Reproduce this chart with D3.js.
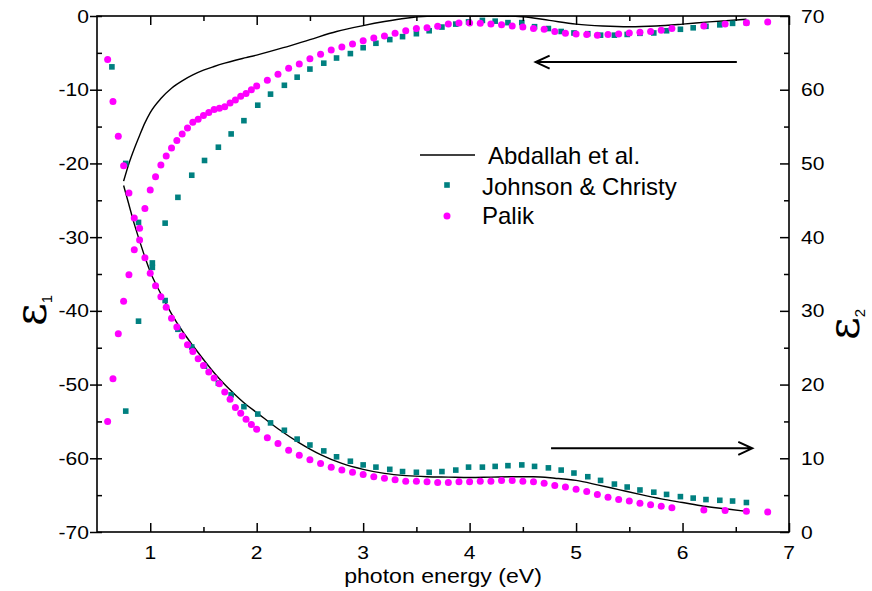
<!DOCTYPE html>
<html>
<head>
<meta charset="utf-8">
<script src="https://cdn.jsdelivr.net/npm/d3@7/dist/d3.min.js"></script>
<style>
  body { margin: 0; background: #fff; }
  svg text { font-family: "Liberation Sans", Arial, sans-serif; fill: #000; }
</style>
</head>
<body>
<svg id="chart" width="872" height="591"></svg>
<script>
// ---- Palik (circles): photon energy (eV), eps1 (left axis), eps2 (right axis)
const palikEnergy = [
  0.60, 0.65, 0.70, 0.75, 0.80, 0.85, 0.90, 0.95, 1.00, 1.05, 1.10, 1.15, 1.20, 1.25, 1.30,
  1.35, 1.40, 1.45, 1.50, 1.55, 1.60, 1.65, 1.70, 1.75, 1.80, 1.85, 1.90, 1.95, 2.00,
  2.1, 2.2, 2.3, 2.4, 2.5, 2.6, 2.7, 2.8, 2.9, 3.0, 3.1, 3.2, 3.3, 3.4, 3.5, 3.6, 3.7, 3.8, 3.9,
  4.0, 4.1, 4.2, 4.3, 4.4, 4.5, 4.6, 4.7, 4.8, 4.9, 5.0, 5.1, 5.2, 5.3, 5.4, 5.5, 5.6, 5.7, 5.8, 5.9,
  6.2, 6.4, 6.6, 6.8
];
const palikEps1 = [
  -55.0, -49.2, -43.1, -38.7, -35.1, -31.7, -28.8, -26.1, -23.6, -21.8, -20.2, -19.0, -17.9, -16.9, -16.0,
  -15.2, -14.4, -14.0, -13.5, -13.1, -12.7, -12.5, -12.3, -11.8, -11.4, -10.9, -10.5, -10.0, -9.5,
  -8.7, -7.9, -7.1, -6.5, -5.8, -5.2, -4.6, -4.2, -3.8, -3.35, -3.0, -2.7, -2.35, -2.0, -1.7, -1.6, -1.4, -1.1, -0.95,
  -0.95, -1.0, -1.1, -1.2, -1.35, -1.5, -1.7, -1.8, -2.1, -2.35, -2.45, -2.5, -2.6, -2.5, -2.45, -2.3, -2.2, -2.1, -1.95, -1.7,
  -1.35, -1.1, -0.9, -0.8
];
const palikEps2 = [
  64.1, 58.4, 53.7, 49.7, 46.0, 42.6, 39.6, 37.2, 35.1, 33.4, 31.9, 30.5, 29.0, 27.8, 26.6,
  25.4, 24.5, 23.5, 22.6, 21.7, 20.9, 20.1, 19.0, 18.0, 16.9, 16.1, 15.3, 14.6, 13.95,
  12.8, 12.0, 11.1, 10.4, 9.8, 9.3, 8.8, 8.4, 8.1, 7.8, 7.5, 7.3, 7.1, 6.9, 6.9, 6.8, 6.7, 6.7, 6.8,
  6.8, 6.9, 6.9, 7.0, 7.0, 6.9, 6.8, 6.6, 6.3, 6.1, 5.8, 5.5, 5.1, 4.7, 4.4, 4.2, 3.9, 3.7, 3.5, 3.3,
  3.0, 2.9, 2.8, 2.7
];

// ---- Johnson & Christy (squares)
const jcEnergy = [
  0.64, 0.77, 0.89, 1.02, 1.14, 1.26, 1.39, 1.51, 1.64, 1.76, 1.88, 2.01, 2.13, 2.26, 2.38, 2.50,
  2.63, 2.75, 2.88, 3.00, 3.12, 3.25, 3.37, 3.50, 3.62, 3.74, 3.87, 3.99, 4.12, 4.24, 4.36, 4.49,
  4.61, 4.74, 4.86, 4.98, 5.11, 5.23, 5.36, 5.48, 5.60, 5.73, 5.85, 5.98, 6.10, 6.22, 6.35, 6.47, 6.60
];
// first eps1 value lies below the axis range and is not plotted
const jcEps1 = [
  null, -53.6, -41.4, -33.5, -28.1, -24.6, -21.6, -19.6, -17.8, -16.0, -14.2, -12.1, -10.6, -9.4, -8.3, -7.2,
  -6.4, -5.7, -5.1, -4.3, -3.7, -3.2, -2.8, -2.4, -2.0, -1.5, -1.1, -0.8, -0.6, -0.7, -0.9, -0.9,
  -1.45, -1.7, -2.1, -2.3, -2.4, -2.6, -2.6, -2.5, -2.35, -2.3, -2.0, -1.8, -1.6, -1.4, -1.2, -1.0, -0.9
];
const jcEps2 = [
  63.1, 50.0, 42.0, 35.9, 31.4, 27.5, 25.1, 22.5, 20.2, 18.6, 17.0, 16.0, 14.8, 13.8, 12.6, 11.8,
  11.0, 10.2, 9.6, 9.1, 8.8, 8.5, 8.2, 8.1, 8.1, 8.2, 8.4, 8.8, 8.8, 8.9, 9.0, 9.1,
  8.9, 8.7, 8.4, 8.0, 7.5, 7.0, 6.5, 6.1, 5.7, 5.4, 5.1, 4.8, 4.6, 4.4, 4.3, 4.2, 4.0
];

// ---- Abdallah et al. (solid lines)
const abdEnergy1 = [
  0.75, 0.8, 0.85, 0.9, 0.95, 1.0, 1.1, 1.2, 1.3, 1.4, 1.5, 1.6, 1.7, 1.8, 1.9, 2.0,
  2.25, 2.5, 2.75, 3.0, 3.2, 3.4, 3.6, 3.8, 4.0, 4.25, 4.5, 4.75, 5.0, 5.25, 5.5, 5.75, 6.0, 6.25, 6.5, 6.6
];
const abdEps1 = [
  -22.4, -20.0, -18.0, -16.2, -14.5, -13.1, -11.2, -9.8, -8.8, -8.0, -7.35, -6.85, -6.4, -6.0, -5.65, -5.3,
  -4.3, -3.2, -2.1, -1.3, -0.75, -0.3, -0.05, 0, 0, 0, -0.1, -0.6, -1.1, -1.35, -1.45, -1.35, -1.1, -0.8, -0.55, -0.45
];
const abdEnergy2 = [
  0.75, 0.8, 0.85, 0.9, 0.95, 1.0, 1.1, 1.2, 1.3, 1.4, 1.5, 1.6, 1.7, 1.8, 1.9, 2.0,
  2.2, 2.4, 2.6, 2.8, 3.0, 3.2, 3.4, 3.6, 3.8, 4.0, 4.2, 4.4, 4.6, 4.8, 5.0, 5.2, 5.4, 5.6, 5.8, 6.0, 6.2, 6.4, 6.6
];
const abdEps2 = [
  47.0, 44.4, 41.8, 39.5, 37.3, 35.3, 32.3, 29.6, 27.3, 25.3, 23.4, 21.6, 20.0, 18.6, 17.3, 16.2,
  14.0, 12.1, 10.5, 9.3, 8.5, 7.95, 7.65, 7.5, 7.45, 7.4, 7.45, 7.5, 7.5, 7.3, 7.0, 6.4, 5.75, 5.1, 4.5, 4.0, 3.5, 3.15, 2.8
];

// ---- axis ticks
const xMajor = [1, 2, 3, 4, 5, 6, 7];
const xMinor = [1.5, 2.5, 3.5, 4.5, 5.5, 6.5];
const yLeftMajor = [-70, -60, -50, -40, -30, -20, -10, 0];
const yLeftMinor = [-65, -55, -45, -35, -25, -15, -5];
const yRightMajor = [0, 10, 20, 30, 40, 50, 60, 70];
const yRightMinor = [5, 15, 25, 35, 45, 55, 65];

const seriesNames = ["Abdallah et al.", "Johnson & Christy", "Palik"];

// ---- layout
const L = 97, R = 789, T = 16, B = 532;
const x = d3.scaleLinear([0.5, 7], [L, R]);
const yL = d3.scaleLinear([-70, 0], [B, T]);
const yR = d3.scaleLinear([0, 70], [B, T]);

const MAGENTA = "#ff00ff", TEAL = "#008080";
const svg = d3.select("#chart");

svg.append("defs").append("clipPath").attr("id", "plot-clip")
  .append("rect").attr("x", L).attr("y", T).attr("width", R - L).attr("height", B - T);

const plot = svg.append("g").attr("clip-path", "url(#plot-clip)");

// Abdallah et al. curves
const lineL = d3.line().x(d => x(d[0])).y(d => yL(d[1])).curve(d3.curveMonotoneX);
const lineR = d3.line().x(d => x(d[0])).y(d => yR(d[1])).curve(d3.curveMonotoneX);
plot.append("path").datum(d3.zip(abdEnergy1, abdEps1))
  .attr("d", lineL).attr("fill", "none").attr("stroke", "#000").attr("stroke-width", 1.4);
plot.append("path").datum(d3.zip(abdEnergy2, abdEps2))
  .attr("d", lineR).attr("fill", "none").attr("stroke", "#000").attr("stroke-width", 1.4);

// Johnson & Christy squares
const sq = 5.6;
const jc1 = d3.zip(jcEnergy, jcEps1).filter(d => d[1] !== null);
const jc2 = d3.zip(jcEnergy, jcEps2);
plot.append("g").selectAll("rect").data(jc1).join("rect")
  .attr("x", d => x(d[0]) - sq / 2).attr("y", d => yL(d[1]) - sq / 2)
  .attr("width", sq).attr("height", sq).attr("fill", TEAL);
plot.append("g").selectAll("rect").data(jc2).join("rect")
  .attr("x", d => x(d[0]) - sq / 2).attr("y", d => yR(d[1]) - sq / 2)
  .attr("width", sq).attr("height", sq).attr("fill", TEAL);

// Palik circles
const rad = 3.5;
plot.append("g").selectAll("circle").data(d3.zip(palikEnergy, palikEps1)).join("circle")
  .attr("cx", d => x(d[0])).attr("cy", d => yL(d[1])).attr("r", rad).attr("fill", MAGENTA);
plot.append("g").selectAll("circle").data(d3.zip(palikEnergy, palikEps2)).join("circle")
  .attr("cx", d => x(d[0])).attr("cy", d => yR(d[1])).attr("r", rad).attr("fill", MAGENTA);

// ---- axes (ticks only; frame drawn separately)
function ticks(axis, tr) {
  const g = svg.append("g").attr("transform", tr).call(axis);
  g.select(".domain").remove();
  g.selectAll("line").attr("stroke", "#000").attr("stroke-width", 1.5);
  g.selectAll("text").remove();
}
ticks(d3.axisBottom(x).tickValues(xMajor).tickSize(-9), `translate(0,${B})`);
ticks(d3.axisBottom(x).tickValues(xMinor).tickSize(-5), `translate(0,${B})`);
ticks(d3.axisTop(x).tickValues(xMajor).tickSize(-9), `translate(0,${T})`);
ticks(d3.axisTop(x).tickValues(xMinor).tickSize(-5), `translate(0,${T})`);
ticks(d3.axisLeft(yL).tickValues(yLeftMajor).tickSize(7), `translate(${L},0)`);
ticks(d3.axisLeft(yL).tickValues(yLeftMajor.concat(yLeftMinor)).tickSize(-5), `translate(${L},0)`);
ticks(d3.axisRight(yR).tickValues(yRightMajor).tickSize(-9), `translate(${R},0)`);
ticks(d3.axisRight(yR).tickValues(yRightMinor).tickSize(-5), `translate(${R},0)`);

svg.append("rect").attr("x", L).attr("y", T).attr("width", R - L).attr("height", B - T)
  .attr("fill", "none").attr("stroke", "#000").attr("stroke-width", 1.6);

// tick labels (slightly wide face)
const tickFont = 18, stretch = 1.17;
function label(g, tx, ty, txt, anchor) {
  g.append("text").attr("transform", `translate(${tx},${ty}) scale(${stretch},1)`)
    .attr("text-anchor", anchor).attr("font-size", tickFont).text(txt);
}
const labels = svg.append("g");
yLeftMajor.forEach(v => label(labels, 89, yL(v) + 6.5, v, "end"));
yRightMajor.forEach(v => label(labels, 801, yR(v) + 6.5, v, "start"));
xMajor.forEach(v => label(labels, x(v), 559, v, "middle"));

svg.append("text").attr("transform", `translate(${(L + R) / 2},583) scale(1.1,1)`)
  .attr("text-anchor", "middle").attr("font-size", 21).text("photon energy (eV)");

// axis titles: epsilon_1 (left), epsilon_2 (right)
function epsTitle(tx, ty, sub) {
  const t = svg.append("text").attr("transform", `translate(${tx},${ty}) rotate(-90)`);
  t.append("tspan").attr("font-family", "'DejaVu Serif', serif").attr("font-size", 44).text("ε");
  t.append("tspan").attr("font-size", 15).attr("dy", 6).text(sub);
}
epsTitle(46, 326, "1");
epsTitle(859, 340, "2");

// direction arrows: which axis each branch belongs to
function arrow(x0, x1, yy) {
  const dir = Math.sign(x1 - x0);
  svg.append("path")
    .attr("d", `M${x0},${yy}H${x1}M${x1 - dir * 14},${yy - 6.5}L${x1},${yy}L${x1 - dir * 14},${yy + 6.5}`)
    .attr("fill", "none").attr("stroke", "#000").attr("stroke-width", 2);
}
arrow(x(6.51), x(4.62), yL(-6.25));
arrow(x(4.765), x(6.655), yR(11.35));

// legend
const lg = svg.append("g");
lg.append("line").attr("x1", 420).attr("x2", 475).attr("y1", 155).attr("y2", 155)
  .attr("stroke", "#000").attr("stroke-width", 1.4);
lg.append("rect").attr("x", 447 - sq / 2).attr("y", 185 - sq / 2).attr("width", sq).attr("height", sq).attr("fill", TEAL);
lg.append("circle").attr("cx", 447).attr("cy", 216).attr("r", rad).attr("fill", MAGENTA);
[[488, 164], [482, 195], [482, 224]].forEach((p, i) =>
  lg.append("text").attr("x", p[0]).attr("y", p[1]).attr("font-size", 24).text(seriesNames[i]));
</script>
</body>
</html>
